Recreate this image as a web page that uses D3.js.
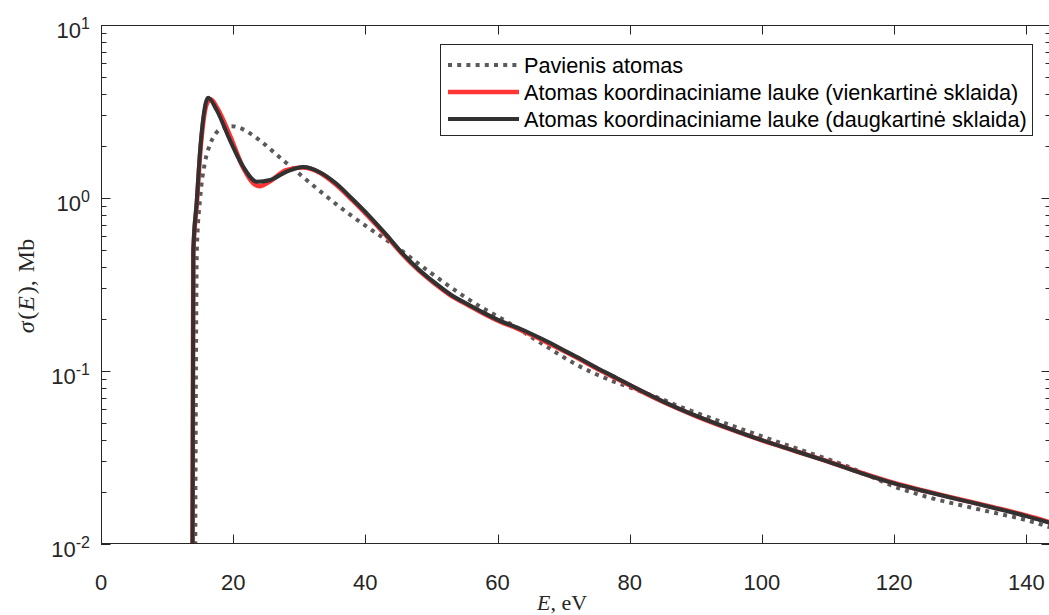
<!DOCTYPE html>
<html>
<head>
<meta charset="utf-8">
<script src="https://cdn.jsdelivr.net/npm/d3@7"></script>
<style>
  html, body { margin: 0; padding: 0; background: #fff; }
  svg { display: block; }
</style>
</head>
<body>
<svg id="chart" width="1049" height="615"></svg>
<script>
// ---------------- DATA ----------------
const xTicks = [0, 20, 40, 60, 80, 100, 120, 140];
const yTickValues = [0.01, 0.1, 1, 10];
const yTickExponents = ["-2", "-1", "0", "1"];

const seriesNames = [
  "Pavienis atomas",
  "Atomas koordinaciniame lauke (vienkartinė sklaida)",
  "Atomas koordinaciniame lauke (daugkartinė sklaida)"
];

// Isolated atom (dotted)
const E_isolated = [14.2, 14.5, 15.0, 15.7, 16.5, 17.3, 18.5, 19.8, 21.0, 22.5, 24, 26, 28, 30, 32, 34, 36, 38, 40, 42.5, 45, 47.5, 50, 52.5, 55, 57.5, 60, 62.5, 65, 67.5, 70, 72.5, 75, 77.5, 80, 82.5, 85, 87.5, 90, 95, 100, 105, 110, 112.5, 115, 117.5, 120, 122.5, 125, 130, 135, 140, 143.7];
const sigma_isolated = [0.002, 0.501, 1.0, 1.585, 2.04, 2.34, 2.54, 2.60, 2.54, 2.37, 2.16, 1.86, 1.60, 1.38, 1.19, 1.03, 0.895, 0.785, 0.692, 0.596, 0.513, 0.432, 0.367, 0.313, 0.269, 0.234, 0.207, 0.182, 0.158, 0.138, 0.120, 0.106, 0.0955, 0.0871, 0.0804, 0.0741, 0.0684, 0.0624, 0.0575, 0.0490, 0.0419, 0.0359, 0.0309, 0.0285, 0.0260, 0.0236, 0.0215, 0.0200, 0.0187, 0.0168, 0.0152, 0.01374, 0.01245];

// Atom in coordination field, single scattering (red)
const E_single = [13.8, 13.97, 14.5, 15.0, 15.5, 16.0, 16.6, 17.6, 19.5, 21.5, 23.0, 24.0, 25.6, 28.0, 30.5, 33.1, 35.5, 38, 40.5, 43, 45.5, 48, 50.5, 53, 55.5, 58, 60.4, 63, 65.4, 68, 70.5, 73, 75.5, 78, 80.5, 85, 90, 95, 100, 105, 110, 115, 120, 125, 130, 135, 140, 143.7];
const sigma_single = [0.002, 0.48, 0.93, 1.8, 2.8, 3.5, 3.72, 3.3, 2.3, 1.5, 1.22, 1.17, 1.25, 1.45, 1.50, 1.40, 1.20, 0.975, 0.78, 0.615, 0.478, 0.384, 0.320, 0.272, 0.241, 0.214, 0.193, 0.176, 0.160, 0.143, 0.128, 0.114, 0.101, 0.0905, 0.0808, 0.0664, 0.0549, 0.0464, 0.0397, 0.0345, 0.0300, 0.0258, 0.0225, 0.0201, 0.0181, 0.0163, 0.0146, 0.0133];

// Atom in coordination field, multiple scattering (black)
const E_multi = [13.8, 13.97, 14.5, 15.0, 15.5, 16.2, 17.5, 19.5, 21.5, 23.6, 25.6, 28.1, 30.6, 33.1, 35.5, 38, 40.5, 43, 45.5, 48, 50.5, 53, 55.5, 58, 60.4, 63, 65.4, 68, 70.5, 73, 75.5, 78, 80.5, 85, 90, 95, 100, 105, 110, 115, 120, 125, 130, 135, 140, 143.7];
const sigma_multi = [0.002, 0.5, 0.97, 1.89, 2.95, 3.80, 3.22, 2.16, 1.52, 1.24, 1.27, 1.42, 1.51, 1.41, 1.22, 0.99, 0.794, 0.624, 0.484, 0.389, 0.324, 0.275, 0.243, 0.216, 0.195, 0.178, 0.162, 0.145, 0.129, 0.115, 0.102, 0.0912, 0.0813, 0.0668, 0.0552, 0.0466, 0.0398, 0.0345, 0.0299, 0.0257, 0.0224, 0.0200, 0.0180, 0.0162, 0.0145, 0.0132];

// ---------------- LAYOUT ----------------
const svg = d3.select("#chart");
const pLeft = 101, pTop = 25, pBottom = 544, pRight = 1051;
const xMax = 143.74;
const axisColor = "#262626";
const sans = "'Liberation Sans', Arial, Helvetica, sans-serif";
const serif = "'Liberation Serif', 'Times New Roman', serif";

const x = d3.scaleLinear().domain([0, xMax]).range([pLeft, pRight]);
const y = d3.scaleLog().domain([0.01, 10]).range([pBottom, pTop]);

svg.append("defs").append("clipPath").attr("id", "plotclip")
  .append("rect").attr("x", pLeft).attr("y", pTop)
  .attr("width", pRight - pLeft).attr("height", pBottom - pTop);

const zip = (a, b) => a.map((v, i) => [v, b[i]]);
const line = d3.line()
  .x(d => x(d[0]))
  .y(d => y(Math.max(d[1], 1e-4)))
  .curve(d3.curveMonotoneX);

const plot = svg.append("g").attr("clip-path", "url(#plotclip)");

const styles = [
  { color: "#5a5a5a", width: 4, dash: "4 5.2" },
  { color: "#ff3535", width: 4.6, dash: null },
  { color: "#313131", width: 4, dash: null }
];
const data = [zip(E_isolated, sigma_isolated), zip(E_single, sigma_single), zip(E_multi, sigma_multi)];

data.forEach((d, i) => {
  plot.append("path")
    .datum(d)
    .attr("d", line)
    .attr("fill", "none")
    .attr("stroke", styles[i].color)
    .attr("stroke-width", styles[i].width)
    .attr("stroke-dasharray", styles[i].dash)
    .attr("stroke-linejoin", "round");
});

// ---------------- AXES ----------------
const ax = svg.append("g").attr("stroke", axisColor).attr("stroke-width", 1).attr("fill", "none");
ax.append("rect").attr("x", pLeft + 0.5).attr("y", pTop + 0.5)
  .attr("width", pRight - pLeft - 1).attr("height", pBottom - pTop - 1);

const majorLen = 9.5, minorLen = 5.5;
xTicks.forEach(t => {
  const px = Math.round(x(t)) + 0.5;
  ax.append("line").attr("x1", px).attr("x2", px).attr("y1", pBottom).attr("y2", pBottom - majorLen);
  ax.append("line").attr("x1", px).attr("x2", px).attr("y1", pTop).attr("y2", pTop + majorLen);
});
const minorVals = [];
[0.01, 0.1, 1].forEach(dec => { for (let k = 2; k <= 9; k++) minorVals.push(dec * k); });
yTickValues.forEach(v => {
  const py = Math.round(y(v)) + 0.5;
  ax.append("line").attr("x1", pLeft).attr("x2", pLeft + majorLen).attr("y1", py).attr("y2", py);
  ax.append("line").attr("x1", pRight).attr("x2", pRight - majorLen).attr("y1", py).attr("y2", py);
});
minorVals.forEach(v => {
  const py = Math.round(y(v)) + 0.5;
  ax.append("line").attr("x1", pLeft).attr("x2", pLeft + minorLen).attr("y1", py).attr("y2", py);
  ax.append("line").attr("x1", pRight).attr("x2", pRight - minorLen).attr("y1", py).attr("y2", py);
});

svg.append("g").selectAll("text").data(xTicks).join("text")
  .attr("x", d => x(d))
  .attr("y", 590)
  .attr("text-anchor", "middle")
  .attr("font-family", sans)
  .attr("font-size", 22)
  .attr("fill", axisColor)
  .text(d => d);

yTickValues.forEach((v, i) => {
  const t = svg.append("text")
    .attr("x", 90)
    .attr("y", y(v) + 13.3)
    .attr("text-anchor", "end")
    .attr("font-family", sans)
    .attr("font-size", 22)
    .attr("fill", axisColor);
  t.append("tspan").text("10");
  t.append("tspan").attr("dy", -9).attr("font-size", 16).text(yTickExponents[i]);
});

const xl = svg.append("text")
  .attr("x", 562).attr("y", 610)
  .attr("text-anchor", "middle")
  .attr("font-family", serif)
  .attr("font-size", 22)
  .attr("fill", axisColor);
xl.append("tspan").attr("font-style", "italic").text("E");
xl.append("tspan").text(", eV");

const yl = svg.append("text")
  .attr("transform", "translate(34,286) rotate(-90)")
  .attr("text-anchor", "middle")
  .attr("font-family", serif)
  .attr("font-size", 24)
  .attr("fill", axisColor);
yl.append("tspan").attr("font-style", "italic").text("σ");
yl.append("tspan").attr("dx", 1.5).text("(");
yl.append("tspan").attr("dx", 1).attr("font-style", "italic").text("E");
yl.append("tspan").attr("dx", 2).text("),");
yl.append("tspan").attr("dx", 8).text("Mb");

// ---------------- LEGEND ----------------
const lg = svg.append("g");
lg.append("rect")
  .attr("x", 440.5).attr("y", 44.5)
  .attr("width", 592).attr("height", 91)
  .attr("fill", "#fff")
  .attr("stroke", axisColor)
  .attr("stroke-width", 1);
const rowY = [65, 92, 119];
seriesNames.forEach((name, i) => {
  lg.append("line")
    .attr("x1", 448).attr("x2", 519)
    .attr("y1", rowY[i]).attr("y2", rowY[i])
    .attr("stroke", styles[i].color)
    .attr("stroke-width", styles[i].width)
    .attr("stroke-dasharray", styles[i].dash);
  lg.append("text")
    .attr("x", 524)
    .attr("y", rowY[i] + 7.5)
    .attr("font-family", sans)
    .attr("font-size", 21.7)
    .attr("fill", "#000")
    .text(name);
});
</script>
</body>
</html>
